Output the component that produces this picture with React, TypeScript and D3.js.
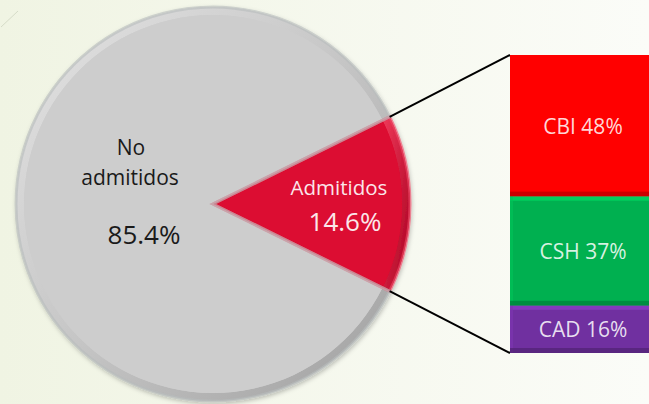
import React, { useEffect, useRef } from "react";
import * as d3 from "d3";

const pieLabels = ["Admitidos", "No admitidos"];
const pieValues = [14.6, 85.4];
const pieColors = ["#dc0a30", "#cdcdcd"];

const barLabels = ["CBI", "CSH", "CAD"];
const barValues = [48, 37, 16];
const barColors = ["#ff0000", "#00b050", "#7030a0"];

const W = 649;
const H = 404;

export default function App() {
  const ref = useRef<SVGSVGElement>(null);

  useEffect(() => {
    const svg = d3.select(ref.current);
    svg.selectAll("*").remove();
    svg.attr("width", W).attr("height", H);

    const defs = svg.append("defs");
    const bg = defs.append("linearGradient").attr("id", "bg").attr("x1", 0).attr("x2", 1).attr("y1", 0).attr("y2", 0);
    bg.append("stop").attr("offset", "0").attr("stop-color", "#f0f4e3");
    bg.append("stop").attr("offset", "1").attr("stop-color", "#fbfcf8");

    const rim = defs.append("linearGradient").attr("id", "rim").attr("x1", 0).attr("y1", 0).attr("x2", 1).attr("y2", 1);
    rim.append("stop").attr("offset", "0").attr("stop-color", "#e4e4e4");
    rim.append("stop").attr("offset", "0.5").attr("stop-color", "#c6c6c6");
    rim.append("stop").attr("offset", "1").attr("stop-color", "#a0a0a0");

    const rimRed = defs.append("linearGradient").attr("id", "rimRed").attr("x1", 0).attr("y1", 0).attr("x2", 1).attr("y2", 1);
    rimRed.append("stop").attr("offset", "0").attr("stop-color", "#f03a5a");
    rimRed.append("stop").attr("offset", "1").attr("stop-color", "#a8001f");

    const sh = defs.append("filter").attr("id", "sh").attr("x", "-10%").attr("y", "-10%").attr("width", "120%").attr("height", "120%");
    sh.append("feDropShadow").attr("dx", 1).attr("dy", 2).attr("stdDeviation", 2).attr("flood-opacity", 0.25);

    svg.append("rect").attr("width", W).attr("height", H).attr("fill", "url(#bg)");
    svg.append("line").attr("x1", 1).attr("y1", 27).attr("x2", 18).attr("y2", 11)
      .attr("stroke", "#d6dcc8").attr("stroke-width", 1);

    // pie
    const cx = 213, cy = 204, r = 197;
    const span = (pieValues[0] / d3.sum(pieValues)) * 2 * Math.PI;
    const start = Math.PI / 2 - span / 2;
    const pie = d3.pie<number>().sort(null).startAngle(start).endAngle(start + 2 * Math.PI);
    const arcs = pie(pieValues);
    const arc = d3.arc<d3.PieArcDatum<number>>().innerRadius(0).outerRadius(r);
    const rimArc = d3.arc<d3.PieArcDatum<number>>().innerRadius(r - 8).outerRadius(r);
    const innerArc = d3.arc<d3.PieArcDatum<number>>().innerRadius(0).outerRadius(r - 8);

    const g = svg.append("g").attr("transform", `translate(${cx},${cy})`);
    const gp = g.append("g").attr("filter", "url(#sh)");
    gp.selectAll("path.slice").data(arcs).enter().append("path")
      .attr("class", "slice").attr("d", arc).attr("fill", (_, i) => pieColors[i]);
    gp.selectAll("path.rim").data(arcs).enter().append("path")
      .attr("d", rimArc).attr("fill", (_, i) => (i === 0 ? "url(#rimRed)" : "url(#rim)"));
    gp.selectAll("path.inner").data(arcs).enter().append("path")
      .attr("d", innerArc).attr("fill", (_, i) => pieColors[i]);
    gp.selectAll("path.edge").data(arcs).enter().append("path")
      .attr("d", arc).attr("fill", "none")
      .attr("stroke", (_, i) => (i === 0 ? "#f04a68" : "#b8bcbc"))
      .attr("stroke-width", 3).attr("stroke-opacity", 0.6);

    const font = "'Open Sans', 'Noto Sans', sans-serif";
    // pie labels
    g.append("text").attr("x", 131 - cx).attr("y", 155 - cy).attr("text-anchor", "middle")
      .attr("font-family", font).attr("font-size", 21).attr("fill", "#1a1a1a").text("No");
    g.append("text").attr("x", 130 - cx).attr("y", 185 - cy).attr("text-anchor", "middle")
      .attr("font-family", font).attr("font-size", 21).attr("fill", "#1a1a1a").text("admitidos");
    g.append("text").attr("x", 144 - cx).attr("y", 244 - cy).attr("text-anchor", "middle")
      .attr("font-family", font).attr("font-size", 26).attr("fill", "#1a1a1a").text(`${pieValues[1]}%`);
    g.append("text").attr("x", 339 - cx).attr("y", 195 - cy).attr("text-anchor", "middle")
      .attr("font-family", font).attr("font-size", 20.5).attr("fill", "#fbe6ea").text(pieLabels[0]);
    g.append("text").attr("x", 345 - cx).attr("y", 231 - cy).attr("text-anchor", "middle")
      .attr("font-family", font).attr("font-size", 26).attr("fill", "#fbe6ea").text(`${pieValues[0]}%`);

    // bar of pie
    const bx = 510, bw = 146, top = 55, bottom = 353;
    const y = d3.scaleLinear().domain([0, d3.sum(barValues)]).range([top, bottom]);
    const cum = barValues.map((_, i) => d3.sum(barValues.slice(0, i)));

    const a0 = arcs[0].startAngle, a1 = arcs[0].endAngle;
    const ex0 = cx + r * Math.sin(a0), ey0 = cy - r * Math.cos(a0);
    const ex1 = cx + r * Math.sin(a1), ey1 = cy - r * Math.cos(a1);
    svg.append("line").attr("x1", ex0).attr("y1", ey0).attr("x2", bx).attr("y2", y(0))
      .attr("stroke", "#000").attr("stroke-width", 2);
    svg.append("line").attr("x1", ex1).attr("y1", ey1).attr("x2", bx).attr("y2", y(d3.sum(barValues)))
      .attr("stroke", "#000").attr("stroke-width", 2);

    const bars = svg.append("g");
    barValues.forEach((v, i) => {
      const y0 = y(cum[i]);
      const y1 = y(cum[i] + v);
      const c = d3.color(barColors[i])!;
      bars.append("rect").attr("x", bx).attr("y", y0).attr("width", bw).attr("height", y1 - y0).attr("fill", barColors[i]);
      bars.append("rect").attr("x", bx).attr("y", y0).attr("width", bw).attr("height", 4)
        .attr("fill", c.brighter(0.6).toString()).attr("opacity", 0.8);
      bars.append("rect").attr("x", bx).attr("y", y0).attr("width", 3).attr("height", y1 - y0)
        .attr("fill", c.brighter(0.3).toString()).attr("opacity", 0.6);
      bars.append("rect").attr("x", bx).attr("y", y1 - 5).attr("width", bw).attr("height", 5)
        .attr("fill", c.darker(0.8).toString()).attr("opacity", 0.8);
      bars.append("text").attr("x", 583).attr("y", (y0 + y1) / 2 + 8).attr("text-anchor", "middle")
        .attr("font-family", font).attr("font-size", 21).attr("fill", "#ffffff").attr("fill-opacity", 0.85)
        .text(`${barLabels[i]} ${v}%`);
    });
  }, []);

  return <svg ref={ref} style={{ position: "absolute", left: 0, top: 0 }} />;
}
